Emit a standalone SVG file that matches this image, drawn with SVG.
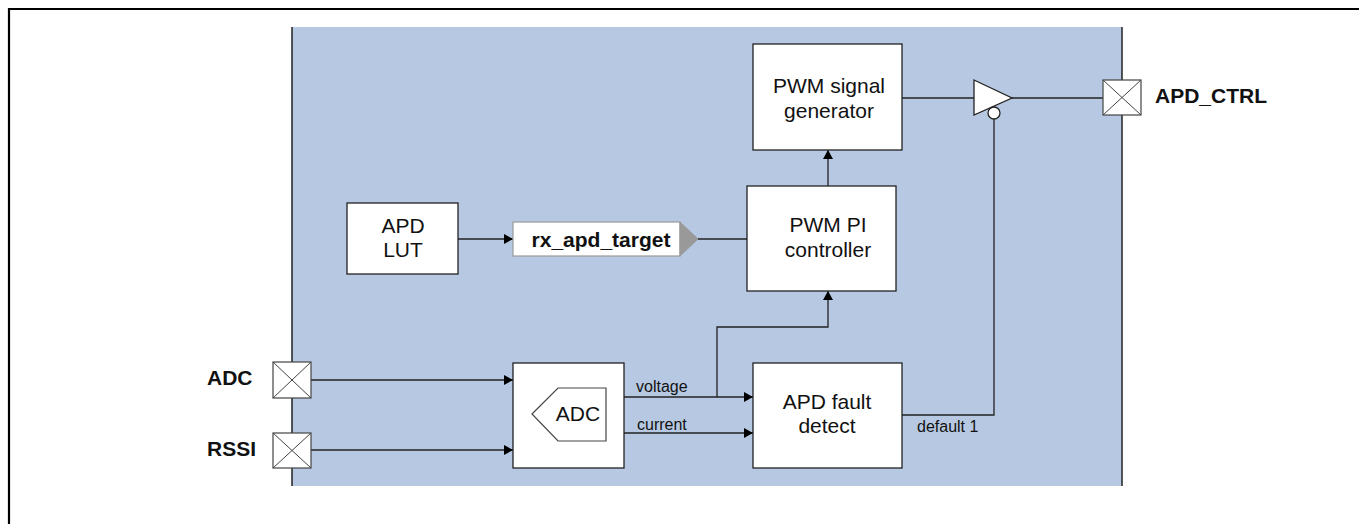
<svg xmlns="http://www.w3.org/2000/svg" width="1359" height="524" viewBox="0 0 1359 524">
<style>
.box{fill:#fff;stroke:#222;stroke-width:1.3}
.t{font-family:"Liberation Sans",Arial,sans-serif;font-size:21px;fill:#111;text-anchor:middle}
.b{font-family:"Liberation Sans",Arial,sans-serif;font-size:21px;font-weight:bold;fill:#111}
.s{font-family:"Liberation Sans",Arial,sans-serif;font-size:16px;fill:#111}
.w{fill:none;stroke:#222;stroke-width:1.3}
.port{fill:#fff;stroke:#444;stroke-width:1.2}
</style>
<defs>
<marker id="ar" markerWidth="10" markerHeight="10" refX="9" refY="5" orient="auto" markerUnits="userSpaceOnUse">
<path d="M0,0 L9,5 L0,10 Z" fill="#000"/>
</marker>
</defs>
<rect x="0" y="0" width="1359" height="524" fill="#fff"/>
<path d="M9,524 L9,9 L1359,9" fill="none" stroke="#000" stroke-width="2.2"/>
<rect x="292" y="27" width="830" height="459" fill="#b7c9e2"/>
<line x1="292" y1="27" x2="292" y2="486" stroke="#222" stroke-width="1.5"/>
<line x1="1122" y1="27" x2="1122" y2="486" stroke="#222" stroke-width="1.5"/>

<g id="connectors">
<line class="w" x1="311" y1="380" x2="513" y2="380" marker-end="url(#ar)"/>
<line class="w" x1="311" y1="450" x2="513" y2="450" marker-end="url(#ar)"/>
<line class="w" x1="458" y1="239" x2="513" y2="239" marker-end="url(#ar)"/>
<line class="w" x1="698" y1="239" x2="747" y2="239"/>
<line class="w" x1="624" y1="397" x2="753" y2="397" marker-end="url(#ar)"/>
<line class="w" x1="624" y1="433" x2="753" y2="433" marker-end="url(#ar)"/>
<polyline class="w" points="717,397 717,327 828,327 828,291" marker-end="url(#ar)"/>
<line class="w" x1="828" y1="186" x2="828" y2="150" marker-end="url(#ar)"/>
<line class="w" x1="902" y1="98" x2="974" y2="98"/>
<line class="w" x1="1012" y1="98" x2="1103" y2="98"/>
<polyline class="w" points="902,415 994,415 994,119"/>
<text class="s" x="636" y="392">voltage</text>
<text class="s" x="637" y="430">current</text>
<text class="s" x="917" y="432" font-size="15.5">default 1</text>
</g>

<g id="port-adc">
<rect class="port" x="273" y="362" width="38" height="36"/>
<path d="M273,362 L311,398 M311,362 L273,398" stroke="#444" stroke-width="1"/>
<text class="b" x="207" y="385">ADC</text>
</g>
<g id="port-rssi">
<rect class="port" x="273" y="433" width="38" height="35"/>
<path d="M273,433 L311,468 M311,433 L273,468" stroke="#444" stroke-width="1"/>
<text class="b" x="207" y="456">RSSI</text>
</g>
<g id="port-apd-ctrl">
<rect class="port" x="1103" y="80" width="38" height="35"/>
<path d="M1103,80 L1141,115 M1141,80 L1103,115" stroke="#444" stroke-width="1"/>
<text class="b" x="1155" y="103">APD_CTRL</text>
</g>

<g id="apd-lut">
<rect class="box" x="347" y="203" width="111" height="71"/>
<text class="t" x="403" y="233">APD</text>
<text class="t" x="403" y="257">LUT</text>
</g>

<g id="rx-apd-target">
<rect x="513" y="222" width="167" height="34" fill="#fff" stroke="#999" stroke-width="1.2"/>
<path d="M680,222 L698,239 L680,256 Z" fill="#999" stroke="#999" stroke-width="1"/>
<text class="b" x="601" y="247" text-anchor="middle">rx_apd_target</text>
</g>

<g id="pwm-pi">
<rect class="box" x="747" y="186" width="149" height="105"/>
<text class="t" x="828" y="232">PWM PI</text>
<text class="t" x="828" y="257">controller</text>
</g>

<g id="pwm-gen">
<rect class="box" x="753" y="44" width="149" height="106"/>
<text class="t" x="829" y="93">PWM signal</text>
<text class="t" x="829" y="118">generator</text>
</g>

<g id="buffer">
<path d="M974,80 L1012,98 L974,115 Z" fill="#fff" stroke="#222" stroke-width="1.3"/>
<circle cx="994" cy="113" r="6" fill="#fff" stroke="#222" stroke-width="1.3"/>
</g>

<g id="adc">
<rect class="box" x="513" y="363" width="111" height="105"/>
<path d="M532,414 L558,388 L606,388 L606,441 L558,441 Z" fill="#fff" stroke="#444" stroke-width="1.2"/>
<text class="t" x="578" y="421">ADC</text>
</g>

<g id="fault">
<rect class="box" x="753" y="363" width="149" height="105"/>
<text class="t" x="827" y="409">APD fault</text>
<text class="t" x="827" y="433">detect</text>
</g>
</svg>
